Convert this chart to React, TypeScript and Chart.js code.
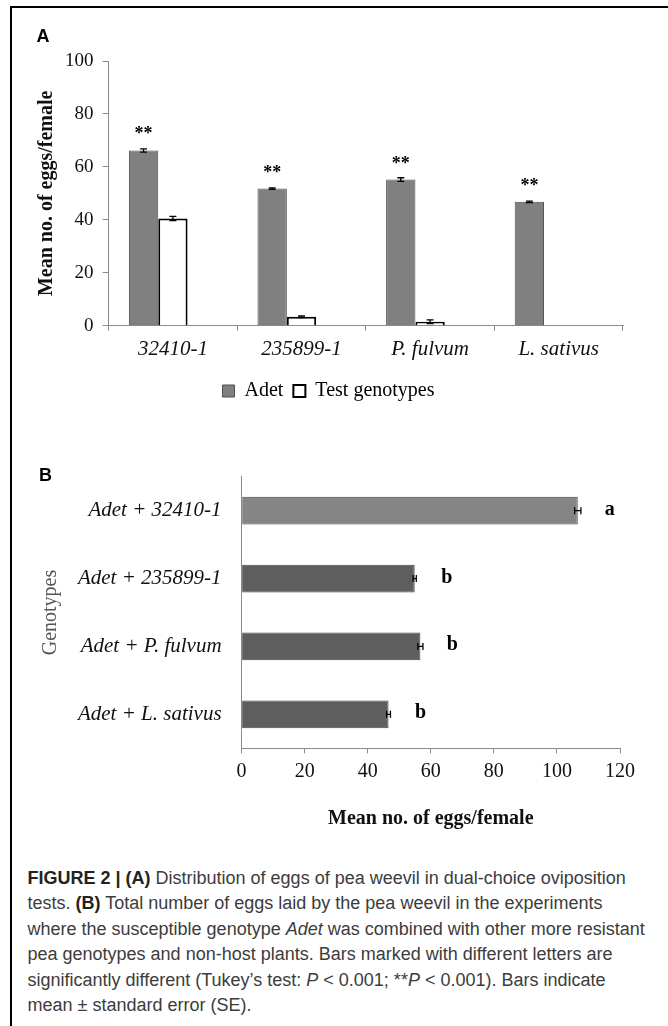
import React, { useEffect, useRef } from 'react';
import { Chart, registerables } from 'chart.js';

Chart.register(...registerables);

const SERIF = "'Liberation Serif', 'Times New Roman', serif";
const SANS = "'Liberation Sans', Arial, sans-serif";
const AXIS_COLOR = '#8a8a8a';
const TEXT_COLOR = '#111111';

// Panel A: dual-choice oviposition test
const dualCategories = ['32410-1', '235899-1', 'P. fulvum', 'L. sativus'];
const adetMeans = [66.2, 51.8, 55.2, 46.8];
const adetErrors = [0.6, 0.3, 0.7, 0.3];
const testMeans = [40.5, 3.4, 1.5, null];
const testErrors = [0.8, 0.3, 0.7, 0];
const significance = ['**', '**', '**', '**'];
const dualTicks = [0, 20, 40, 60, 80, 100];

// Panel B: total eggs when Adet is paired with another genotype
const pairCategories = ['Adet + 32410-1', 'Adet + 235899-1', 'Adet + P. fulvum', 'Adet + L. sativus'];
const pairMeans = [106.6, 54.9, 56.7, 46.6];
const pairErrors = [1.0, 0.5, 0.8, 0.6];
const tukeyLetters = ['a', 'b', 'b', 'b'];
const pairTicks = [0, 20, 40, 60, 80, 100, 120];

const errorBarPlugin = {
    id: 'errorBars',
    afterDatasetsDraw(chart: any, _args: any, opts: any) {
        const { ctx } = chart;
        const horizontal = chart.options.indexAxis === 'y';
        const valueScale = horizontal ? chart.scales.x : chart.scales.y;
        const cap = 3.5;
        (opts.errors || []).forEach((errs: number[] | null, di: number) => {
            if (!errs) return;
            const values = chart.data.datasets[di].data;
            chart.getDatasetMeta(di).data.forEach((bar: any, i: number) => {
                const v = values[i];
                const e = errs[i];
                if (v == null || !e) return;
                const lo = valueScale.getPixelForValue(v - e);
                const hi = valueScale.getPixelForValue(v + e);
                ctx.save();
                ctx.strokeStyle = '#000';
                ctx.lineWidth = 1.3;
                ctx.beginPath();
                if (horizontal) {
                    ctx.moveTo(lo, bar.y);
                    ctx.lineTo(hi, bar.y);
                    ctx.moveTo(lo, bar.y - cap);
                    ctx.lineTo(lo, bar.y + cap);
                    ctx.moveTo(hi, bar.y - cap);
                    ctx.lineTo(hi, bar.y + cap);
                } else {
                    ctx.moveTo(bar.x, lo);
                    ctx.lineTo(bar.x, hi);
                    ctx.moveTo(bar.x - cap, lo);
                    ctx.lineTo(bar.x + cap, lo);
                    ctx.moveTo(bar.x - cap, hi);
                    ctx.lineTo(bar.x + cap, hi);
                }
                ctx.stroke();
                ctx.restore();
            });
        });
    },
};

// text marks (** or letters) next to the bars of one dataset
const markPlugin = {
    id: 'marks',
    afterDatasetsDraw(chart: any, _args: any, opts: any) {
        const { ctx } = chart;
        const meta = chart.getDatasetMeta(opts.dataset || 0);
        ctx.save();
        ctx.font = opts.font;
        ctx.fillStyle = '#000';
        ctx.textAlign = 'center';
        ctx.textBaseline = 'alphabetic';
        meta.data.forEach((bar: any, i: number) => {
            const text = opts.labels[i];
            if (!text) return;
            ctx.fillText(text, bar.x + opts.dx, bar.y + opts.dy);
        });
        ctx.restore();
    },
};

const DualChoiceChart: React.FC = () => {
    const canvasRef = useRef<HTMLCanvasElement>(null);

    useEffect(() => {
        if (!canvasRef.current) return;
        const chart = new Chart(canvasRef.current, {
            type: 'bar',
            data: {
                labels: dualCategories,
                datasets: [
                    {
                        label: 'Adet',
                        data: adetMeans,
                        backgroundColor: '#808080',
                        borderColor: '#4f4f4f',
                        borderWidth: 1,
                    },
                    {
                        label: 'Test genotypes',
                        data: testMeans,
                        backgroundColor: '#ffffff',
                        borderColor: '#000000',
                        borderWidth: 2,
                    },
                    // empty third series, as in the original spreadsheet chart
                    {
                        label: 'gap',
                        data: dualCategories.map(() => null),
                    },
                ],
            },
            options: {
                animation: false,
                responsive: true,
                maintainAspectRatio: false,
                datasets: {
                    bar: { categoryPercentage: 0.684, barPercentage: 1 },
                },
                layout: { padding: { top: 61, left: 34, right: 45, bottom: 9 } },
                plugins: {
                    tooltip: { enabled: false },
                    legend: {
                        position: 'bottom',
                        labels: {
                            filter: (item) => item.datasetIndex !== 2,
                            boxWidth: 12,
                            boxHeight: 12,
                            padding: 10,
                            color: '#000',
                            font: { family: SERIF, size: 20 },
                        },
                    },
                    errorBars: { errors: [adetErrors, testErrors, null] },
                    marks: {
                        dataset: 0,
                        labels: significance,
                        font: `bold 18px ${SERIF}`,
                        dx: 0,
                        dy: -11,
                    },
                } as any,
                scales: {
                    x: {
                        grid: {
                            offset: true,
                            drawOnChartArea: false,
                            tickLength: 5,
                            color: AXIS_COLOR,
                        },
                        border: { color: AXIS_COLOR },
                        ticks: {
                            color: TEXT_COLOR,
                            padding: 6,
                            maxRotation: 0,
                            font: { family: SERIF, size: 21, style: 'italic' },
                        },
                        afterFit: (s) => {
                            s.height = 45.3;
                        },
                    },
                    y: {
                        min: 0,
                        max: 100,
                        afterBuildTicks: (s) => {
                            s.ticks = dualTicks.map((value) => ({ value }));
                        },
                        grid: {
                            drawOnChartArea: false,
                            tickLength: 6,
                            color: AXIS_COLOR,
                        },
                        border: { color: AXIS_COLOR },
                        ticks: {
                            color: TEXT_COLOR,
                            padding: 9,
                            font: { family: SERIF, size: 19 },
                        },
                        title: {
                            display: true,
                            text: 'Mean no. of eggs/female',
                            color: TEXT_COLOR,
                            padding: { top: 1, bottom: 0 },
                            font: { family: SERIF, size: 20, weight: 'bold' },
                        },
                        afterFit: (s) => {
                            s.width = 74.6;
                        },
                    },
                },
            },
            plugins: [errorBarPlugin, markPlugin],
        });
        return () => chart.destroy();
    }, []);

    return (
        <div style={{ position: 'absolute', left: 0, top: 0, width: 668, height: 420 }}>
            <canvas ref={canvasRef} />
        </div>
    );
};

const PairedChart: React.FC = () => {
    const canvasRef = useRef<HTMLCanvasElement>(null);

    useEffect(() => {
        if (!canvasRef.current) return;
        const chart = new Chart(canvasRef.current, {
            type: 'bar',
            data: {
                labels: pairCategories,
                datasets: [
                    {
                        label: 'Total eggs',
                        data: pairMeans,
                        backgroundColor: ['#858585', '#5e5e5e', '#5e5e5e', '#5e5e5e'],
                        borderColor: '#474747',
                        borderWidth: 1,
                    },
                ],
            },
            options: {
                indexAxis: 'y',
                animation: false,
                responsive: true,
                maintainAspectRatio: false,
                datasets: {
                    bar: { categoryPercentage: 1, barPercentage: 0.41 },
                },
                layout: { padding: { top: 36.7, left: 0, right: 48, bottom: 1.7 } },
                plugins: {
                    tooltip: { enabled: false },
                    legend: { display: false },
                    errorBars: { errors: [pairErrors] },
                    marks: {
                        dataset: 0,
                        labels: tukeyLetters,
                        font: `bold 20px ${SERIF}`,
                        dx: 32,
                        dy: 4,
                    },
                } as any,
                scales: {
                    x: {
                        min: 0,
                        max: 120,
                        afterBuildTicks: (s) => {
                            s.ticks = pairTicks.map((value) => ({ value }));
                        },
                        grid: {
                            drawOnChartArea: false,
                            tickLength: 5,
                            color: AXIS_COLOR,
                        },
                        border: { color: AXIS_COLOR },
                        ticks: {
                            color: TEXT_COLOR,
                            padding: 6.4,
                            maxRotation: 0,
                            font: { family: SERIF, size: 20 },
                        },
                        title: {
                            display: true,
                            text: 'Mean no. of eggs/female',
                            color: TEXT_COLOR,
                            padding: { top: 0, bottom: 7.3 },
                            font: { family: SERIF, size: 20, weight: 'bold' },
                        },
                        afterFit: (s) => {
                            s.height = 90;
                        },
                    },
                    y: {
                        grid: {
                            offset: true,
                            drawOnChartArea: false,
                            drawTicks: false,
                            color: AXIS_COLOR,
                        },
                        border: { color: AXIS_COLOR },
                        ticks: {
                            color: TEXT_COLOR,
                            padding: 20,
                            font: { family: SERIF, size: 21, style: 'italic' },
                        },
                        title: {
                            display: true,
                            text: 'Genotypes',
                            color: '#555555',
                            padding: { top: 39, bottom: 0 },
                            font: { family: SERIF, size: 20 },
                        },
                        afterFit: (s) => {
                            s.width = 241.6;
                        },
                    },
                },
            },
            plugins: [errorBarPlugin, markPlugin],
        });
        return () => chart.destroy();
    }, []);

    return (
        <div style={{ position: 'absolute', left: 0, top: 440, width: 668, height: 400 }}>
            <canvas ref={canvasRef} />
        </div>
    );
};

const panelLabel: React.CSSProperties = {
    position: 'absolute',
    fontFamily: SANS,
    fontWeight: 'bold',
    fontSize: 18,
    lineHeight: '18px',
    color: '#000',
};

const App: React.FC = () => {
    return (
        <div
            style={{
                position: 'absolute',
                left: 0,
                top: 0,
                width: 668,
                height: 1026,
                overflow: 'hidden',
                background: '#fff',
            }}
        >
            <div
                style={{
                    position: 'absolute',
                    left: 10,
                    top: 6,
                    width: 720,
                    height: 1100,
                    borderLeft: '2px solid #000',
                    borderTop: '2px solid #000',
                }}
            />
            <DualChoiceChart />
            <PairedChart />
            <div style={{ ...panelLabel, left: 36.5, top: 27 }}>A</div>
            <div style={{ ...panelLabel, left: 39, top: 466 }}>B</div>
            <div
                style={{
                    position: 'absolute',
                    left: 27.5,
                    top: 865.5,
                    fontFamily: SANS,
                    fontSize: 18,
                    lineHeight: '25.5px',
                    color: '#3c3c3c',
                    whiteSpace: 'nowrap',
                }}
            >
                <b style={{ color: '#222' }}>FIGURE 2 | (A)</b> Distribution of eggs of pea weevil in dual-choice oviposition
                <br />
                tests. <b style={{ color: '#222' }}>(B)</b> Total number of eggs laid by the pea weevil in the experiments
                <br />
                where the susceptible genotype <i>Adet</i> was combined with other more resistant
                <br />
                pea genotypes and non-host plants. Bars marked with different letters are
                <br />
                significantly different (Tukey’s test: <i>P</i> &lt; 0.001; **<i>P</i> &lt; 0.001). Bars indicate
                <br />
                mean ± standard error (SE).
            </div>
        </div>
    );
};

export default App;
